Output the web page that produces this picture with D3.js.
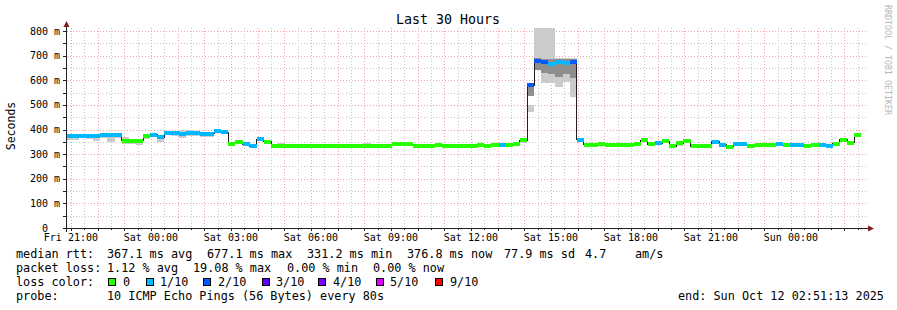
<!DOCTYPE html>
<html>
<head>
<meta charset="utf-8">
<script src="https://cdn.jsdelivr.net/npm/d3@7/dist/d3.min.js"></script>
<style>
  html, body { margin: 0; padding: 0; background: #ffffff; }
  svg { display: block; }
  text { font-family: "DejaVu Sans Mono", "Liberation Mono", monospace; fill: #000; white-space: pre; }
</style>
</head>
<body>
<svg id="chart" width="897" height="310"></svg>
<script>
// ---------------- DATA ----------------
const chartTitle = "Last 30 Hours";
const yAxisTitle = "Seconds";
const watermark = "RRDTOOL / TOBI OETIKER";
const endTime = new Date(2025, 9, 12, 2, 51, 13);
const spanHours = 30;
const binStartTime = new Date(2025, 9, 10, 20, 46, 13); // start of first consolidated bin
const binMinutes = 16;

// median RTT per 16-minute bin (ms)
const medianMs = [
  372,372,375,373,373,378,378,378,354,354,
  354,372,379,368,386,386,383,386,386,382,
  382,392,388,342,348,341,333,361,350,335,
  335,331,334,332,334,334,334,334,335,335,
  335,335,335,332,332,332,341,340,340,334,
  335,335,338,333,333,335,335,331,337,332,
  337,338,339,343,356,579,680,673,668,675,
  672,675,358,338,337,341,339,339,338,338,
  343,357,340,345,353,332,345,354,332,332,
  332,350,338,330,342,340,332,337,337,338,
  342,338,338,338,331,336,338,334,342,359,
  346,376
];
// packet loss per bin (tenths of pings lost)
const lossTenths = [
  1,1,1,1,1,1,1,1,0,0,
  0,0,1,1,1,1,1,1,1,1,
  1,1,1,0,0,1,1,1,0,0,
  0,0,0,0,0,0,0,0,0,0,
  0,0,0,0,0,0,0,0,0,0,
  0,0,0,0,0,0,0,0,0,0,
  0,1,0,0,0,2,2,2,1,1,
  1,2,1,0,0,0,0,0,0,0,
  0,0,0,1,0,0,0,0,0,0,
  0,1,1,0,1,1,0,0,0,0,
  1,0,1,1,0,0,1,1,0,0,
  0,0
];
// outer ping spread ("smoke"), sparse: bin index, low, high (ms)
const smokeBin  = [0,1,2,3,4,5,6,7,8,9,10,11,12,13,14,15,16,17,18,19,20,21,23,24,30,42,47,58,60,63,64,65,65,66,67,68,69,70,71,72,73,77,81,84,86,87,102,103,111];
const smokeLow  = [358,358,364,362,355,367,349,364,340,343,336,362,374,351,376,372,365,372,374,370,368,386,336,340,333,333,338,335,335,340,345,472,535,640,589,589,574,594,533,348,334,337,354,350,335,352,330,330,372];
const smokeHigh = [374,374,376,375,375,380,380,380,368,362,362,375,381,370,388,392,396,398,392,384,384,394,350,352,346,344,346,342,343,350,366,500,584,812,812,812,690,690,690,362,342,346,362,358,352,360,340,340,380];
// inner (denser) ping spread
const coreBin  = [10,16,64,65,66,67,68,69,70,71,86];
const coreLow  = [345,375,350,535,642,630,625,615,625,610,342];
const coreHigh = [350,384,358,575,690,688,688,688,688,688,348];

const yTickValues = [0,100,200,300,400,500,600,700,800];
const yTickLabels = ["0  ","100 m","200 m","300 m","400 m","500 m","600 m","700 m","800 m"];

const lossLegendLabels = ["0","1/10","2/10","3/10","4/10","5/10","9/10"];
const lossLegendColors = ["#26ff00","#00b8ff","#0059ff","#5e00ff","#7e00ff","#dd00ff","#ff0000"];

const legendRow1 = ["median rtt:","367.1 ms avg","677.1 ms max","331.2 ms min","376.8 ms now","77.9 ms sd","4.7","am/s"];
const legendRow2 = ["packet loss:","1.12 % avg","19.08 % max","0.00 % min","0.00 % now"];
const legendRow3Label = "loss color:";
const legendRow4 = ["probe:","10 ICMP Echo Pings (56 Bytes) every 80s"];
const endLabel = "end: Sun Oct 12 02:51:13 2025";

// ---------------- LAYOUT ----------------
const L = 67, R = 867, T = 28, B = 228;
const row1X = [16,107,207,307,407,504,585,635];
const row2X = [16,107,193,287,373];
const row3BoxX = [108,146,203,262,318,376,435];
const row3TextX = [123,160,218,276,333,390,450];
const row4X = [16,107];
const rowY = [258,272,286,300];

const svg = d3.select("#chart");
const startTime = new Date(endTime.getTime() - spanHours*3600*1000);
const x = d3.scaleTime().domain([startTime, endTime]).range([L, R]);
const y = d3.scaleLinear().domain([0, 812.2]).range([B, T]);
const binTime = k => new Date(binStartTime.getTime() + k*binMinutes*60000);

svg.append("rect").attr("width",897).attr("height",310).attr("fill","#ffffff");

// grid
const gGrid = svg.append("g").attr("shape-rendering","crispEdges");
const minorY = d3.range(50, 812, 50).filter(v => v % 100 !== 0);
gGrid.selectAll(".gy").data(minorY).join("line")
  .attr("x1", L).attr("x2", R+1).attr("y1", d => Math.round(y(d))+0.5).attr("y2", d => Math.round(y(d))+0.5)
  .attr("stroke","#c8c8c8").attr("stroke-dasharray","1,2");
const minorX = d3.timeMinute.every(30).range(startTime, endTime).filter(d => d.getMinutes() !== 0);
gGrid.selectAll(".gx").data(minorX).join("line")
  .attr("x1", d => Math.round(x(d))+0.5).attr("x2", d => Math.round(x(d))+0.5).attr("y1", T).attr("y2", B)
  .attr("stroke","#c8c8c8").attr("stroke-dasharray","1,2");
gGrid.selectAll(".my").data(yTickValues.filter(v => v > 0)).join("line")
  .attr("x1", L).attr("x2", R+1).attr("y1", d => Math.round(y(d))+0.5).attr("y2", d => Math.round(y(d))+0.5)
  .attr("stroke","#f0a0a0").attr("stroke-dasharray","1,2");
const majorX = d3.timeHour.every(1).range(startTime, endTime);
gGrid.selectAll(".mx").data(majorX).join("line")
  .attr("x1", d => Math.round(x(d))+0.5).attr("x2", d => Math.round(x(d))+0.5).attr("y1", T).attr("y2", B)
  .attr("stroke","#f0a0a0").attr("stroke-dasharray","1,2");

// data
svg.append("clipPath").attr("id","plotClip").append("rect")
  .attr("x", L).attr("y", T).attr("width", R-L).attr("height", B-T);
const gData = svg.append("g").attr("clip-path","url(#plotClip)").attr("shape-rendering","crispEdges");

gData.selectAll(".smoke").data(smokeBin).join("rect")
  .attr("x", d => x(binTime(d))).attr("width", d => x(binTime(d+1)) - x(binTime(d)))
  .attr("y", (d,i) => y(smokeHigh[i])).attr("height", (d,i) => y(smokeLow[i]) - y(smokeHigh[i]))
  .attr("fill","#cbcbcb");
gData.selectAll(".core").data(coreBin).join("rect")
  .attr("x", d => x(binTime(d))).attr("width", d => x(binTime(d+1)) - x(binTime(d)))
  .attr("y", (d,i) => y(coreHigh[i])).attr("height", (d,i) => y(coreLow[i]) - y(coreHigh[i]))
  .attr("fill","#8e8e8e");

const linePts = medianMs.map((m,k) => [binTime(k), m]);
linePts.push([binTime(medianMs.length), medianMs[medianMs.length-1]]);
gData.append("path")
  .attr("d", d3.line().x(d => x(d[0])).y(d => y(d[1])).curve(d3.curveStepAfter)(linePts))
  .attr("fill","none").attr("stroke","#202020").attr("stroke-width",1);

const levelColor = t => lossLegendColors[Math.min(t, lossLegendColors.length-1)];
gData.selectAll(".med").data(medianMs).join("rect")
  .attr("x", (d,k) => x(binTime(k))).attr("width", (d,k) => x(binTime(k+1)) - x(binTime(k)))
  .attr("y", d => y(d) - 2).attr("height", 4)
  .attr("fill", (d,k) => levelColor(lossTenths[k]));

// axes
const gAx = svg.append("g").attr("shape-rendering","crispEdges");
gAx.append("line").attr("x1", 63).attr("x2", 870).attr("y1", B+0.5).attr("y2", B+0.5).attr("stroke","#202020");
gAx.append("line").attr("x1", L-0.5).attr("x2", L-0.5).attr("y1", 25).attr("y2", B+4).attr("stroke","#202020");
gAx.selectAll(".yt").data(d3.range(50, 812, 50)).join("line")
  .attr("x1", L-4).attr("x2", L).attr("y1", d => Math.round(y(d))+0.5).attr("y2", d => Math.round(y(d))+0.5)
  .attr("stroke","#202020");
gAx.selectAll(".xt").data(d3.timeMinute.every(30).range(startTime, endTime)).join("line")
  .attr("x1", d => Math.round(x(d))+0.5).attr("x2", d => Math.round(x(d))+0.5)
  .attr("y1", B).attr("y2", d => d.getMinutes() === 0 ? B+3 : B+2).attr("stroke","#202020");
// arrows
svg.append("path").attr("d", `M${L-3.5},${T-1} L${L-0.5},${T-7} L${L+2.5},${T-1} Z`).attr("fill","#7f1f1f");
svg.append("path").attr("d", `M${R+1},${B-2.5} L${R+7},${B+0.5} L${R+1},${B+3.5} Z`).attr("fill","#7f1f1f");

// tick labels
svg.selectAll(".yl").data(yTickValues).join("text")
  .attr("x", 60).attr("y", d => y(d) + 3.6).attr("text-anchor","end")
  .attr("font-size", 10).text((d,i) => yTickLabels[i]);
const fmt = d3.timeFormat("%a %H:%M");
svg.selectAll(".xl").data(d3.timeHour.every(3).range(startTime, endTime)).join("text")
  .attr("x", d => x(d)).attr("y", 241).attr("text-anchor","middle")
  .attr("font-size", 10).text(d => fmt(d));

// titles
svg.append("text").attr("x", 448).attr("y", 24).attr("text-anchor","middle").attr("font-size", 13.3).text(chartTitle);
svg.append("text").attr("transform","translate(15,126) rotate(-90)").attr("text-anchor","middle")
  .attr("font-size", 11.5).text(yAxisTitle);
svg.append("text").attr("transform","translate(885,5) rotate(90)").attr("font-size", 8.3)
  .style("fill","#b8b8b8").text(watermark);

// legend
const fs = 11.8;
legendRow1.forEach((t,i) => svg.append("text").attr("x", row1X[i]).attr("y", rowY[0]).attr("font-size", fs).text(t));
legendRow2.forEach((t,i) => svg.append("text").attr("x", row2X[i]).attr("y", rowY[1]).attr("font-size", fs).text(t));
svg.append("text").attr("x", 16).attr("y", rowY[2]).attr("font-size", fs).text(legendRow3Label);
lossLegendLabels.forEach((t,i) => {
  svg.append("rect").attr("x", row3BoxX[i]+0.5).attr("y", rowY[2]-7.5).attr("width", 7).attr("height", 7)
    .attr("fill", lossLegendColors[i]).attr("stroke","#000").attr("stroke-width",1).attr("shape-rendering","crispEdges");
  svg.append("text").attr("x", row3TextX[i]).attr("y", rowY[2]).attr("font-size", fs).text(t);
});
legendRow4.forEach((t,i) => svg.append("text").attr("x", row4X[i]).attr("y", rowY[3]).attr("font-size", fs).text(t));
svg.append("text").attr("x", 678).attr("y", rowY[3]).attr("font-size", fs).text(endLabel);
</script>
</body>
</html>
